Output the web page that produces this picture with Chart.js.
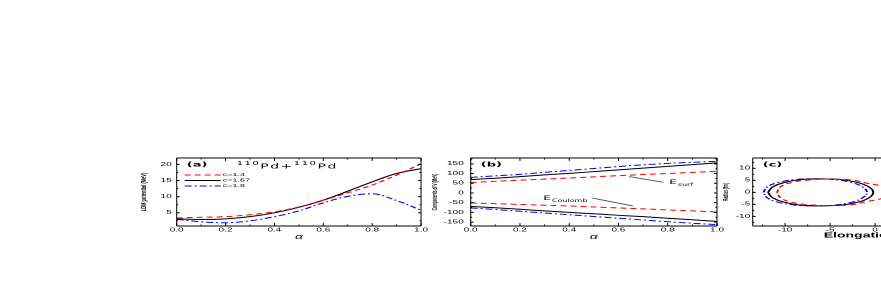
<!DOCTYPE html>
<html>
<head>
<meta charset="utf-8">
<script src="https://cdn.jsdelivr.net/npm/chart.js@4.4.1/dist/chart.umd.min.js"></script>
<style>
  html, body { margin: 0; padding: 0; background: #fff; }
  body { width: 881px; height: 306px; overflow: hidden; position: relative; }
  /* the whole figure is squashed to half height, text included */
  canvas { position: absolute; top: 150px; transform: scaleY(0.5); transform-origin: 0 0; }
</style>
</head>
<body>
<canvas id="chA" width="300" height="190" style="left:130px"></canvas>
<canvas id="chB" width="300" height="190" style="left:430px"></canvas>
<canvas id="chC" width="300" height="190" style="left:718px"></canvas>
<script>
// deformation parameter (x axis of a and b)
const alpha = [0, 0.1, 0.2, 0.3, 0.4, 0.5, 0.6, 0.7, 0.8, 0.9, 1.0];
const cLabels = ['c=1.4', 'c=1.67', 'c=1.8'];

// (a) LDM potential, MeV
const ldm14  = [3.4, 3.6, 3.8, 4.4, 5.3, 6.8, 8.9, 11.2, 13.6, 16.7, 20.2];
const ldm167 = [3.1, 2.9, 3.1, 3.8, 5.0, 6.7, 8.9, 11.7, 14.6, 17.2, 18.7];
const ldm18  = [3.0, 2.2, 1.9, 2.5, 3.8, 5.6, 8.1, 10.1, 10.9, 8.8, 5.8];

// (b) surface and Coulomb components, MeV
const surf14  = [54, 60, 66, 71, 77, 83, 89, 95, 100, 106, 112];
const surf167 = [69, 76, 84, 93, 101, 110, 119, 128, 137, 146, 155];
const surf18  = [80, 88, 96, 106, 116, 126, 136, 145, 152, 158, 163];
const coul14  = [-51, -55, -59, -63, -67, -72, -77, -82, -87, -92, -98];
const coul167 = [-69, -76, -84, -92, -100, -107, -115, -122, -130, -138, -146];
const coul18  = [-77, -85, -94, -103, -112, -121, -130, -139, -148, -156, -163];

// (c) shape profiles, fm
const elong14  = [-10.9, -10.5, -9.3, -7.5, -5.0, -2.5, -0.9, 0.4, 1.4, 1.8, 1.4, 0.4, -0.9, -2.5, -5.0, -7.5, -9.3, -10.5, -10.9];
const radius14 = [0, 2.3, 4.1, 5.1, 5.5, 5.1, 3.8, 2.9, 1.6, 0, -1.6, -2.9, -3.8, -5.1, -5.5, -5.1, -4.1, -2.3, 0];
const elong167  = [-11.9, -11.4, -10.2, -8.3, -6.0, -3.8, -2.0, -0.7, -0.2, -0.7, -2.0, -3.8, -6.0, -8.3, -10.2, -11.4, -11.9];
const radius167 = [0, 2.2, 4.0, 5.3, 5.6, 5.3, 4.2, 2.3, 0, -2.3, -4.2, -5.3, -5.6, -5.3, -4.0, -2.2, 0];
const elong18  = [-12.4, -12.0, -10.9, -8.9, -6.6, -4.5, -2.7, -1.4, -0.9, -1.4, -2.7, -4.5, -6.6, -8.9, -10.9, -12.0, -12.4];
const radius18 = [0, 2.2, 4.0, 5.3, 5.6, 5.3, 4.2, 2.3, 0, -2.3, -4.2, -5.3, -5.6, -5.3, -4.0, -2.2, 0];

// tick labels
const alphaTicks = [0, 0.2, 0.4, 0.6, 0.8, 1.0];
const ldmTicks = [5, 10, 15, 20];
const compTicks = [-150, -100, -50, 0, 50, 100, 150];
const elongTicks = [-10, -5, 0, 5, 10];
const radiusTicks = [-10, -5, 0, 5, 10];

const styles = [
  { color: '#ff0000', dash: [6, 4] },
  { color: '#000000', dash: [] },
  { color: '#0000ff', dash: [7, 3, 2, 3] }
];

Chart.defaults.font.family = '"Liberation Sans", Arial, sans-serif';
Chart.defaults.color = '#000';

function lineSet(i, xs, ys, label, curved) {
  const ds = {
    label: label,
    data: xs.map((x, k) => ({ x: x, y: ys[k] })),
    borderColor: styles[i].color,
    borderDash: styles[i].dash,
    borderWidth: 2,
    pointRadius: 0,
    fill: false
  };
  if (curved) ds.tension = 0.4; else ds.cubicInterpolationMode = 'monotone';
  return ds;
}

function axis(min, max, ticks, fmt, size, pad, title) {
  return {
    type: 'linear', min: min, max: max,
    grid: { display: false, drawTicks: false },
    border: { display: false },
    afterBuildTicks: s => { s.ticks = ticks.map(v => ({ value: v })); },
    afterFit: s => { if (s.isHorizontal()) s.height = size; else s.width = size; },
    ticks: { callback: fmt, font: { size: 10 }, padding: pad, autoSkip: false, maxRotation: 0 },
    title: title
  };
}

// frame and inward tick marks on all four sides
const frameTicks = {
  id: 'frameTicks',
  afterDatasetsDraw(chart) {
    const ctx = chart.ctx, a = chart.chartArea;
    const sx = chart.scales.x, sy = chart.scales.y;
    ctx.save();
    ctx.fillStyle = '#000';
    ctx.fillRect(a.left, a.top - 1, a.right - a.left, 2);
    ctx.fillRect(a.left, a.bottom - 1, a.right - a.left, 2);
    ctx.fillRect(a.left - 0.5, a.top, 1, a.bottom - a.top);
    ctx.fillRect(a.right - 0.5, a.top, 1, a.bottom - a.top);
    function marks(scale) {
      const maj = scale.ticks.map(t => t.value);
      const step = maj[1] - maj[0];
      const min = [];
      for (let v = maj[0] - step / 2; v >= scale.min; v -= step) min.push(v);
      for (let v = maj[0] + step / 2; v <= scale.max; v += step) min.push(v);
      return { maj: maj, min: min };
    }
    const mx = marks(sx), my = marks(sy);
    const vx = (v, len) => {
      const p = sx.getPixelForValue(v);
      ctx.fillRect(p - 0.5, a.bottom - len, 1, len);
      ctx.fillRect(p - 0.5, a.top, 1, len);
    };
    const vy = (v, len) => {
      const p = sy.getPixelForValue(v);
      ctx.fillRect(a.left, p - 1, len, 2);
      ctx.fillRect(a.right - len, p - 1, len, 2);
    };
    mx.maj.forEach(v => vx(v, 6)); mx.min.forEach(v => vx(v, 3));
    my.maj.forEach(v => vy(v, 3)); my.min.forEach(v => vy(v, 1.5));
    ctx.restore();
  }
};

const panelTags = { chA: '(a)', chB: '(b)', chC: '(c)' };
const titleParts = [['110', true], ['Pd', false], ['+', false], ['110', true], ['Pd', false]];

const deco = {
  id: 'deco',
  afterDraw(chart) {
    const ctx = chart.ctx, a = chart.chartArea, id = chart.canvas.id;
    ctx.save();
    ctx.fillStyle = '#000';
    ctx.textBaseline = 'middle';
    ctx.font = 'bold 13px "DejaVu Sans"';
    ctx.fillText(panelTags[id], a.left + 10, a.top + 14);

    if (id === 'chA') {
      // 110Pd+110Pd
      let x = a.left + 60;
      ctx.textBaseline = 'alphabetic';
      ctx.letterSpacing = '1.5px';
      titleParts.forEach(([t, sup]) => {
        ctx.font = sup ? '10px "DejaVu Sans"' : '14px "DejaVu Sans"';
        ctx.fillText(t, x, sup ? a.top + 14 : a.top + 20.6);
        x += ctx.measureText(t).width;
      });
      ctx.letterSpacing = '0px';
      // legend
      ctx.textBaseline = 'middle';
      ctx.font = '9px "Liberation Sans"';
      chart.data.datasets.forEach((ds, i) => {
        const yy = a.top + 34 + i * 11;
        ctx.strokeStyle = ds.borderColor;
        ctx.setLineDash(ds.borderDash);
        ctx.lineWidth = 2;
        ctx.beginPath(); ctx.moveTo(a.left + 8, yy); ctx.lineTo(a.left + 44, yy); ctx.stroke();
        ctx.fillText(ds.label, a.left + 46, yy);
      });
    }

    if (id === 'chB') {
      const sx = chart.scales.x, sy = chart.scales.y;
      const P = (x, y) => [sx.getPixelForValue(x), sy.getPixelForValue(y)];
      ctx.strokeStyle = '#444';
      ctx.lineWidth = 1.5;
      ctx.setLineDash([]);
      let p = P(0.643, 84), q = P(0.782, 55);
      ctx.beginPath(); ctx.moveTo(p[0], p[1]); ctx.lineTo(q[0], q[1]); ctx.stroke();
      p = P(0.492, -26); q = P(0.659, -67);
      ctx.beginPath(); ctx.moveTo(p[0], p[1]); ctx.lineTo(q[0], q[1]); ctx.stroke();
      ctx.textBaseline = 'alphabetic';
      const label = (x, y, sub) => {
        const b = P(x, y);
        ctx.font = '12px "DejaVu Sans"';
        ctx.fillText('E', b[0], b[1]);
        const w = ctx.measureText('E').width;
        ctx.font = '8px "DejaVu Sans"';
        ctx.fillText(sub, b[0] + w + 1, b[1] + 4);
      };
      label(0.806, 46, 'surf');
      label(0.295, -36, 'Coulomb');
    }
    ctx.restore();
  }
};

const base = {
  responsive: false,
  animation: false,
  devicePixelRatio: 1,
  plugins: { legend: { display: false }, tooltip: { enabled: false } }
};

const fmt1 = v => v.toFixed(1);
const fmt0 = v => String(v);

new Chart(document.getElementById('chA'), {
  type: 'line',
  data: { datasets: [
    lineSet(0, alpha, ldm14, cLabels[0]),
    lineSet(1, alpha, ldm167, cLabels[1]),
    lineSet(2, alpha, ldm18, cLabels[2])
  ] },
  options: Object.assign({}, base, {
    layout: { autoPadding: false, padding: { left: 0, top: 16, right: 7, bottom: 0 } },
    scales: {
      x: axis(0, 1, alphaTicks, fmt1, 38, 2,
        { display: true, text: 'α', font: { size: 14, style: 'italic' }, padding: { top: 0, bottom: 7.6 } }),
      y: axis(0.9, 22, ldmTicks, fmt0, 46.7, 5,
        { display: true, text: 'LDM potential (MeV)', font: { size: 8, weight: 'bold' }, padding: { top: 9.2, bottom: 0 } })
    }
  }),
  plugins: [frameTicks, deco]
});

new Chart(document.getElementById('chB'), {
  type: 'line',
  data: { datasets: [
    lineSet(0, alpha, surf14, cLabels[0]),
    lineSet(1, alpha, surf167, cLabels[1]),
    lineSet(2, alpha, surf18, cLabels[2]),
    lineSet(0, alpha, coul14, cLabels[0]),
    lineSet(1, alpha, coul167, cLabels[1]),
    lineSet(2, alpha, coul18, cLabels[2])
  ] },
  options: Object.assign({}, base, {
    layout: { autoPadding: false, padding: { left: 0, top: 16, right: 13, bottom: 0 } },
    scales: {
      x: axis(0, 1, alphaTicks, fmt1, 38, 2,
        { display: true, text: 'α', font: { size: 14, style: 'italic' }, padding: { top: 0, bottom: 7.6 } }),
      y: axis(-170, 180, compTicks, fmt0, 40.7, 7,
        { display: true, text: 'Components of V (MeV)', font: { size: 6.5, weight: 'bold' }, padding: { top: 1.6, bottom: 0 } })
    }
  }),
  plugins: [frameTicks, deco]
});

new Chart(document.getElementById('chC'), {
  type: 'scatter',
  data: { datasets: [
    Object.assign(lineSet(0, elong14, radius14, cLabels[0], true), { showLine: true }),
    Object.assign(lineSet(1, elong167, radius167, cLabels[1], true), { showLine: true }),
    Object.assign(lineSet(2, elong18, radius18, cLabels[2], true), { showLine: true })
  ] },
  options: Object.assign({}, base, {
    layout: { autoPadding: false, padding: { left: 0, top: 16, right: 20.5, bottom: 0 } },
    scales: {
      x: axis(-13.6, 13.6, elongTicks, fmt0, 38, 2,
        { display: true, text: 'Elongation (fm)', font: { size: 14, weight: 'bold' }, padding: { top: 0, bottom: 10.6 } }),
      y: axis(-14, 14.3, radiusTicks, fmt0, 34.7, 2.5,
        { display: true, text: 'Radius (fm)', font: { size: 6.5, weight: 'bold' }, padding: { top: 4.8, bottom: 0 } })
    }
  }),
  plugins: [frameTicks, deco]
});
</script>
</body>
</html>
